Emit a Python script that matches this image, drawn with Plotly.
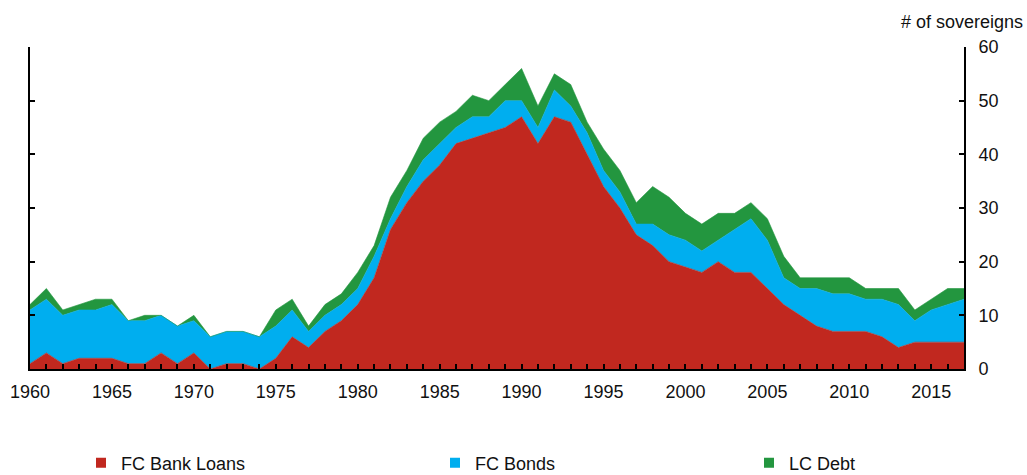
import plotly.graph_objects as go

years = list(range(1960, 2018))

fc_bank_loans = [1, 3, 1, 2, 2, 2, 1, 1, 3, 1, 3, 0, 1, 1, 0, 2, 6, 4, 7, 9,
                 12, 17, 26, 31, 35, 38, 42, 43, 44, 45,
                 47, 42, 47, 46, 40, 34, 30, 25, 23, 20,
                 19, 18, 20, 18, 18, 15, 12, 10, 8, 7,
                 7, 7, 6, 4, 5, 5, 5, 5]

fc_bonds = [10, 10, 9, 9, 9, 10, 8, 8, 7, 7, 6, 6, 6, 6, 6, 6, 5, 3, 3, 3,
            3, 4, 2, 3, 4, 4, 3, 4, 3, 5,
            3, 3, 5, 3, 4, 3, 3, 2, 4, 5,
            5, 4, 4, 8, 10, 9, 5, 5, 7, 7,
            7, 6, 7, 8, 4, 6, 7, 8]

lc_debt = [1, 2, 1, 1, 2, 1, 0, 1, 0, 0, 1, 0, 0, 0, 0, 3, 2, 1, 2, 2,
           3, 2, 4, 3, 4, 4, 3, 4, 3, 3,
           6, 4, 3, 4, 2, 4, 4, 4, 7, 7,
           5, 5, 5, 3, 3, 4, 4, 2, 2, 3,
           3, 2, 2, 3, 2, 2, 3, 2]

series_names = ["FC Bank Loans", "FC Bonds", "LC Debt"]
series_values = [fc_bank_loans, fc_bonds, lc_debt]
colors = ["#C1281F", "#00AEEF", "#23963F"]
legend_ids = ["legend", "legend2", "legend3"]

FONT = "Liberation Sans, Arial, sans-serif"
FS = 18

fig = go.Figure()

for name, vals, col in zip(series_names, series_values, colors):
    fig.add_trace(go.Scatter(
        x=years, y=vals, name=name, mode="lines", stackgroup="one",
        line=dict(color=col, width=0.6), fillcolor=col, showlegend=False,
        hoverinfo="x+y+name"))

# legend entries (square swatches)
for name, col, lid in zip(series_names, colors, legend_ids):
    fig.add_trace(go.Scatter(
        x=[None], y=[None], name=name, mode="markers",
        marker=dict(symbol="square", size=10, color=col),
        showlegend=True, legend=lid))

W, H = 1027, 475
L, R, T, B = 30, 63, 47, 106
pw = W - L - R
ph = H - T - B

def px_to_paper_x(px):
    return (px - L) / pw

def px_to_paper_y(py):
    return (H - B - py) / ph

legend_px = [81, 435, 749]
legend_y = px_to_paper_y(463)
legend_common = dict(orientation="h", yanchor="middle", xanchor="left",
                     font=dict(family=FONT, size=FS, color="#111"),
                     bgcolor="rgba(0,0,0,0)", borderwidth=0)

fig.update_layout(
    width=W, height=H,
    margin=dict(l=L, r=R, t=T, b=B, autoexpand=False),
    paper_bgcolor="white", plot_bgcolor="white",
    font=dict(family=FONT, size=FS, color="#111"),
    legend=dict(x=px_to_paper_x(legend_px[0]), y=legend_y, **legend_common),
    legend2=dict(x=px_to_paper_x(legend_px[1]), y=legend_y, **legend_common),
    legend3=dict(x=px_to_paper_x(legend_px[2]), y=legend_y, **legend_common),
    xaxis=dict(
        range=[1960, 2017], tickmode="linear", tick0=1960, dtick=5,
        showgrid=False, zeroline=False, automargin=False,
        showline=True, linecolor="black", linewidth=2,
        ticks="inside", ticklen=5, tickwidth=1.5, tickcolor="black",
        minor=dict(dtick=1, tick0=1960, ticks="inside", ticklen=5,
                   tickwidth=1.5, tickcolor="black", showgrid=False),
        tickfont=dict(family=FONT, size=FS, color="#111"),
        ticklabelstandoff=5,
    ),
    yaxis=dict(
        range=[0, 60], side="right", tickmode="linear", tick0=0, dtick=10,
        showgrid=False, zeroline=False, automargin=False,
        showline=True, linecolor="black", linewidth=2, mirror="ticks",
        ticks="inside", ticklen=5, tickwidth=1.5, tickcolor="black",
        tickfont=dict(family=FONT, size=FS, color="#111"),
        ticklabelstandoff=9,
    ),
    annotations=[dict(
        text="# of sovereigns", xref="paper", yref="paper",
        x=px_to_paper_x(1025), y=px_to_paper_y(22),
        xanchor="right", yanchor="middle", showarrow=False,
        font=dict(family=FONT, size=FS, color="#111"))],
)

fig.write_html("out.html",
               config={"displayModeBar": False},
               post_script="document.body.style.margin='0';document.body.style.overflow='hidden';")
